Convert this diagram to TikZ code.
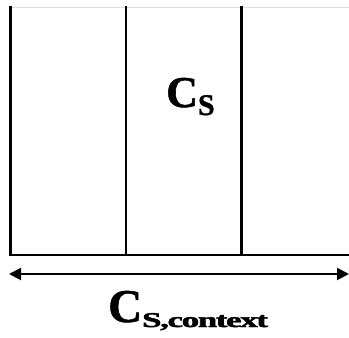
\documentclass[tikz,border=0pt]{standalone}
\usepackage{fontspec}
\setmainfont{Liberation Serif}
\newfontface\heavy{Liberation Serif Bold}[FakeBold=1.2]
\newfontface\heavysub{Liberation Serif Bold}[FakeBold=2,LetterSpace=-4]
\usetikzlibrary{arrows.meta}
\tikzset{
  wall/.style={line width=2.2pt, line cap=rect},
  base/.style={line width=2pt},
  faint/.style={line width=1pt, draw=black!12},
  dim/.style={line width=2pt, {Triangle[length=12pt,width=12pt]}-{Triangle[length=12pt,width=12pt]}},
  lbl/.style={anchor=base west, inner sep=0pt}
}
\begin{document}
\begin{tikzpicture}[x=1pt,y=-1pt]
\useasboundingbox (0,0) rectangle (349,338);
\coordinate (tl) at (10.5,7);
\coordinate (tr) at (349,7);
\coordinate (bl) at (10.5,255);
\coordinate (br) at (349,255);
\coordinate (m1t) at (126,7);
\coordinate (m1b) at (126,255);
\coordinate (m2t) at (241.5,7);
\coordinate (m2b) at (241.5,255);
\coordinate (al) at (9,274);
\coordinate (ar) at (349,274);
\draw[faint] (tl) -- (tr);
\draw[wall] (tl) -- (bl);
\draw[wall] (m1t) -- (m1b);
\draw[wall] (m2t) -- (m2b);
\draw[base] (bl) -- (br);
\draw[dim] (al) -- (ar);
\node[lbl] (cs) at (166,107) {\heavy\fontsize{44}{44}\selectfont C\raisebox{-8pt}{\fontsize{30}{30}\selectfont S}};
\node[lbl] (csc) at (108,322) {\heavy\fontsize{47}{47}\selectfont C\raisebox{-5pt}{\scalebox{1.25}[0.75]{\heavysub\fontsize{28}{28}\selectfont S,context}}};
\end{tikzpicture}
\end{document}
